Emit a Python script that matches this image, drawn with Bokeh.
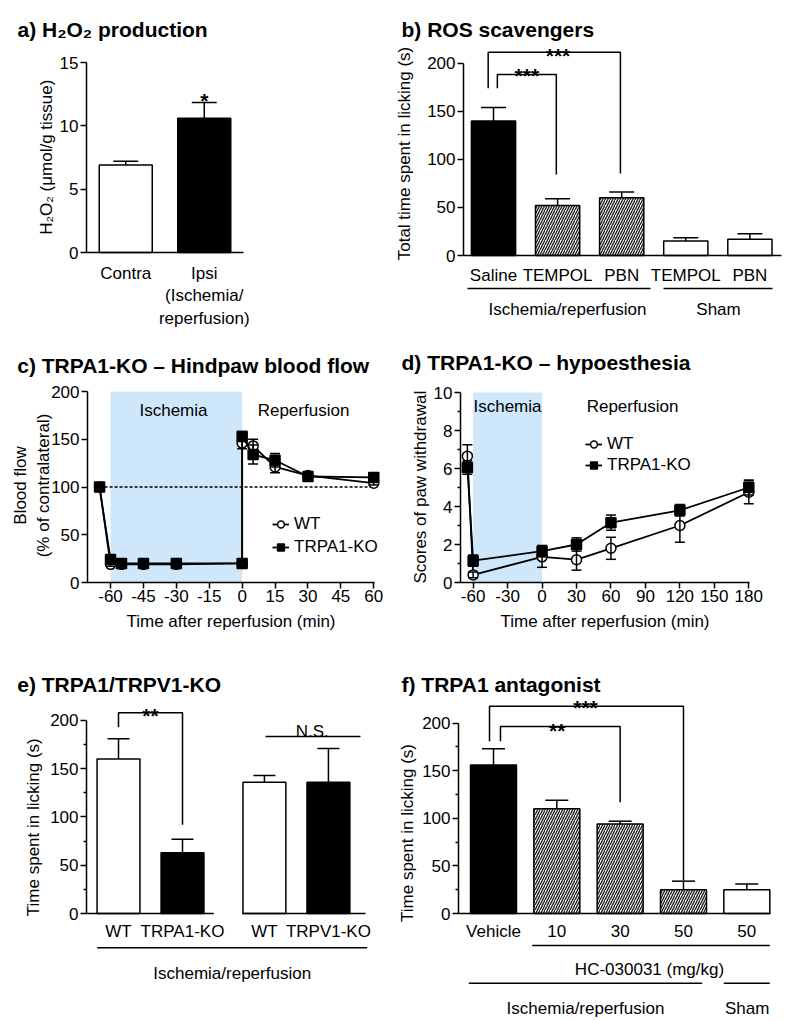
from math import pi
from bokeh.plotting import figure
from bokeh.models import (Range1d, FixedTicker, Label, Whisker, TeeHead,
                          ColumnDataSource, BoxAnnotation, Legend, LegendItem)
from bokeh.layouts import column, row
from bokeh.embed import file_html
from bokeh.resources import INLINE

# ---------------- data ----------------
a_groups = ["Contra", "Ipsi\n(Ischemia/\nreperfusion)"]
a_mean = [6.9, 10.6]
a_sem = [0.3, 1.25]

b_groups = ["Saline", "TEMPOL", "PBN", "TEMPOL", "PBN"]
b_conditions = ["Ischemia/reperfusion", "Sham"]
b_mean = [140, 52, 60, 15, 17]
b_sem = [14, 7, 6, 3.5, 5.5]

c_time = [-65, -60, -55, -45, -30, 0, 0, 5, 15, 30, 60]
c_wt = [100, 19, 19, 19, 19, 20, 146, 143, 121, 112, 104]
c_wt_sem = [2, 2, 2, 2, 2, 2, 6, 7, 6, 2, 2]
c_ko = [100, 24, 20, 20, 20, 20, 153, 134, 128, 111, 110]
c_ko_sem = [2, 3, 2, 2, 2, 2, 5, 10, 7, 3, 3]
c_baseline = 100
c_ticks = [-60, -45, -30, -15, 0, 15, 30, 45, 60]

d_time = [-65, -60, 0, 30, 60, 120, 180]
d_wt = [6.65, 0.4, 1.35, 1.2, 1.8, 3.0, 4.75]
d_wt_sem = [0.6, 0.15, 0.55, 0.55, 0.58, 0.88, 0.6]
d_ko = [6.05, 1.15, 1.65, 2.0, 3.15, 3.8, 5.0]
d_ko_sem = [0.35, 0.3, 0.3, 0.35, 0.4, 0.3, 0.4]
d_ticks = [-60, -30, 0, 30, 60, 90, 120, 150, 180]

ischemia_window = (-60, 0)

e_groups = ["WT", "TRPA1-KO", "WT", "TRPV1-KO"]
e_condition = "Ischemia/reperfusion"
e_mean = [160, 63, 136, 136]
e_sem = [21, 14, 7, 35]

f_groups = ["Vehicle", "10", "30", "50", "50"]
f_mean = [156, 110, 94, 25, 25]
f_sem = [17, 9, 3, 9, 6]

# ---------------- styling helpers ----------------
FONT = "Liberation Sans"
FS = "17px"
TFS = "21px"
SHADE = "#cfe7fb"


def panel(width, height, L, T, R, B, xr, yr, xb, yb, ox=0, oy=0):
    """Frame covers the whole figure; axes sit at fixed data locations.
    L,T,R,B are pixel positions of the plotting area (before the ox/oy shift)."""
    kx = (xr[1] - xr[0]) / (R - L)
    ky = (yr[1] - yr[0]) / (B - T)

    def X(px):
        return xr[0] + (px - L) * kx

    def Y(py):
        return yr[1] - (py - T) * ky

    p = figure(width=width, height=height,
               x_range=Range1d(X(-ox), X(width - ox)), y_range=Range1d(Y(height - oy), Y(-oy)),
               min_border=0, toolbar_location=None, output_backend="svg")
    p.outline_line_color = None
    p.xgrid.visible = False
    p.ygrid.visible = False
    p.background_fill_color = "white"
    p.border_fill_color = "white"
    for ax in (p.xaxis[0], p.yaxis[0]):
        ax.axis_line_color = "black"
        ax.axis_line_width = 1.5
        ax.major_tick_line_color = "black"
        ax.major_tick_line_width = 1.5
        ax.minor_tick_line_color = "black"
        ax.minor_tick_line_width = 1.5
        ax.major_tick_in = 0
        ax.minor_tick_in = 0
        ax.major_tick_out = 6
        ax.minor_tick_out = 3
        ax.major_label_text_font = FONT
        ax.major_label_text_font_size = FS
        ax.major_label_text_color = "black"
        ax.axis_label_text_font = FONT
        ax.axis_label_text_font_size = FS
        ax.axis_label_text_font_style = "normal"
        ax.axis_label_text_color = "black"
        ax.major_label_standoff = 2
    p.xaxis.fixed_location = yr[0]
    p.yaxis.fixed_location = xr[0]
    p.xaxis.bounds = xb
    p.yaxis.bounds = yb
    return p, X, Y


def text(p, x, y, s, size=FS, bold=False, align="center", baseline="alphabetic", angle=0.0):
    p.add_layout(Label(x=x, y=y, text=s, text_font=FONT, text_font_size=size,
                       text_font_style="bold" if bold else "normal", text_color="black",
                       text_align=align, text_baseline=baseline, angle=angle))


def rule(p, x0, x1, y):
    p.segment(x0=[x0], y0=[y], x1=[x1], y1=[y], line_color="black", line_width=1.5)


def bars(p, pos, mean, sem, kinds, width, cap):
    for kind in ("black", "white", "hatch"):
        idx = [i for i, k in enumerate(kinds) if k == kind]
        if not idx:
            continue
        kw = dict(fill_color="black") if kind == "black" else dict(fill_color="white")
        if kind == "hatch":
            kw.update(hatch_pattern="/", hatch_color="#222222", hatch_scale=5, hatch_weight=1.4)
        p.vbar(x=[pos[i] for i in idx], top=[mean[i] for i in idx], bottom=0, width=width,
               line_color="black", line_width=1.5, **kw)
    src = ColumnDataSource(dict(x=pos, lo=mean, hi=[m + s for m, s in zip(mean, sem)]))
    p.add_layout(Whisker(source=src, base="x", lower="lo", upper="hi", dimension="height",
                         line_color="black", line_width=1.5, lower_head=None,
                         upper_head=TeeHead(size=cap, line_color="black", line_width=1.5)))


def bar_xaxis(p, pos, labels, standoff):
    p.xaxis.ticker = FixedTicker(ticks=pos)
    p.xaxis.major_label_overrides = dict(zip(pos, labels))
    p.xaxis.major_tick_out = 0
    p.xaxis.major_label_standoff = standoff


def time_xaxis(p, ticks):
    p.xaxis.ticker = FixedTicker(ticks=ticks)
    p.xaxis.major_label_overrides = {t: str(t) for t in ticks}
    p.xaxis.major_label_standoff = 1
    p.xaxis.axis_label = "Time after reperfusion (min)"
    p.xaxis.axis_label_standoff = 7


def series(p, t, v, e, marker, fill):
    ln = p.line(t, v, line_color="black", line_width=1.8)
    src = ColumnDataSource(dict(x=t, lo=[a - b for a, b in zip(v, e)], hi=[a + b for a, b in zip(v, e)]))
    p.add_layout(Whisker(source=src, base="x", lower="lo", upper="hi", dimension="height",
                         line_color="black", line_width=1.5, level="annotation",
                         upper_head=TeeHead(size=10, line_color="black", line_width=1.5),
                         lower_head=TeeHead(size=10, line_color="black", line_width=1.5)))
    sc = p.scatter(t, v, marker=marker, size=10, fill_color=fill, line_color="black", line_width=1.5)
    return ln, sc


def legend(p, items, loc, spacing):
    lg = Legend(items=[LegendItem(label=lab, renderers=list(r)) for lab, r in items],
                location=loc, border_line_color=None, background_fill_alpha=0,
                label_text_font=FONT, label_text_font_size=FS, label_text_color="black",
                glyph_width=17, glyph_height=20, label_standoff=5, spacing=spacing,
                padding=0, margin=0, label_height=20)
    p.add_layout(lg)


# ---------------- a) H2O2 production ----------------
pa, X, Y = panel(390, 330, 78, 54, 235, 244, (0.5, 2.5), (0, 15), (0.5, 2.5), (0, 15), ox=8, oy=8)
a_pos = [1, 2]
bars(pa, a_pos, a_mean, a_sem, ["white", "black"], 0.675, 25)
bar_xaxis(pa, a_pos, a_groups, 11)
pa.yaxis.ticker = FixedTicker(ticks=[0, 5, 10, 15])
text(pa, a_pos[1], Y(92), "*", size=TFS, bold=True)
text(pa, X(9), Y(21.4), "a) H₂O₂ production", size=TFS, bold=True, align="left")
text(pa, X(37.8), Y(148.7), "H₂O₂ (μmol/g tissue)", baseline="middle", angle=pi / 2)

# ---------------- b) ROS scavengers ----------------
pb, X, Y = panel(396, 330, 73, 16, 391, 247, (0.532, 5.493), (0, 240.25), (0.532, 5.493), (0, 200), ox=0, oy=8)
b_pos = [1, 2, 3, 4, 5]
bars(pb, b_pos, b_mean, b_sem, ["black", "hatch", "hatch", "white", "white"], 0.69, 25)
bar_xaxis(pb, b_pos, b_groups, 10)
pb.yaxis.ticker = FixedTicker(ticks=[0, 50, 100, 150, 200])
pb.multi_line(xs=[[1.06, 1.06, 1.98, 1.98], [0.917, 0.917, 2.98, 2.98]],
              ys=[[174, 188.3, 188.3, 84.3], [174, 211.4, 211.4, 85.3]],
              line_color="black", line_width=1.5)
text(pb, (1.06 + 1.98) / 2, Y(67), "***", size=TFS, bold=True)
text(pb, X(167.5), Y(46.7), "***", size=TFS, bold=True)
rule(pb, X(77), X(260), Y(280))
rule(pb, X(273), X(382), Y(280))
text(pb, X(177), Y(301.4), b_conditions[0])
text(pb, X(328), Y(301.4), b_conditions[1])
text(pb, X(11), Y(21.4), "b) ROS scavengers", size=TFS, bold=True, align="left")
text(pb, X(13.7), Y(145), "Total time spent in licking (s)", baseline="middle", angle=pi / 2)

# ---------------- c) TRPA1-KO hindpaw blood flow ----------------
pc, X, Y = panel(390, 325, 79, 61, 378, 252, (-70.5, 65.8), (0, 200), (-70.5, 60.5), (0, 200), ox=8, oy=0)
pc.add_layout(BoxAnnotation(left=ischemia_window[0], right=ischemia_window[1], bottom=0, top=200,
                            fill_color=SHADE, fill_alpha=1, line_color=None, level="underlay"))
pc.line([c_time[0], c_time[-1]], [c_baseline, c_baseline], line_color="black",
        line_width=1.3, line_dash="3 2")
c_wt_r = series(pc, c_time, c_wt, c_wt_sem, "circle", "white")
c_ko_r = series(pc, c_time, c_ko, c_ko_sem, "square", "black")
time_xaxis(pc, c_ticks)
pc.yaxis.ticker = FixedTicker(ticks=[0, 50, 100, 150, 200])
legend(pc, [("WT", c_wt_r), ("TRPA1-KO", c_ko_r)], (272, 98), 3)
text(pc, X(165), Y(80), "Ischemia")
text(pc, X(295), Y(80), "Reperfusion")
text(pc, X(8.7), Y(35), "c) TRPA1-KO – Hindpaw blood flow", size=TFS, bold=True, align="left")
text(pc, X(12), Y(155), "Blood flow", baseline="middle", angle=pi / 2)
text(pc, X(34.5), Y(155), "(% of contralateral)", baseline="middle", angle=pi / 2)

# ---------------- d) TRPA1-KO hypoesthesia ----------------
pd, X, Y = panel(396, 325, 70, 62, 366, 252, (-71, 186.7), (0, 10), (-71, 181), (0, 10))
pd.add_layout(BoxAnnotation(left=ischemia_window[0], right=ischemia_window[1], bottom=0, top=10,
                            fill_color=SHADE, fill_alpha=1, line_color=None, level="underlay"))
d_wt_r = series(pd, d_time, d_wt, d_wt_sem, "circle", "white")
d_ko_r = series(pd, d_time, d_ko, d_ko_sem, "square", "black")
time_xaxis(pd, d_ticks)
pd.yaxis.ticker = FixedTicker(ticks=[0, 2, 4, 6, 8, 10], minor_ticks=[1, 3, 5, 7, 9])
legend(pd, [("WT", d_wt_r), ("TRPA1-KO", d_ko_r)], (195, 180), 1)
text(pd, X(117), Y(76), "Ischemia")
text(pd, X(242), Y(76), "Reperfusion")
text(pd, X(11), Y(32), "d) TRPA1-KO – hypoesthesia", size=TFS, bold=True, align="left")
text(pd, X(30), Y(156.7), "Scores of paw withdrawal", baseline="middle", angle=pi / 2)

# ---------------- e) TRPA1/TRPV1-KO ----------------
pe, X, Y = panel(390, 365, 78, 20, 366, 258, (-0.5, 4.0), (0, 246.6), (-0.5, 3.86), (0, 200), ox=8, oy=0)
e_pos = [0, 1, 2.28, 3.28]
bars(pe, e_pos, e_mean, e_sem, ["white", "black", "white", "black"], 0.67, 22)
bar_xaxis(pe, e_pos, e_groups, 8)
pe.xaxis.axis_line_color = None
pe.segment(x0=[X(78), X(233.7)], y0=[0, 0], x1=[X(205.3), X(357)], y1=[0, 0],
           line_color="black", line_width=1.5)
pe.yaxis.ticker = FixedTicker(ticks=[0, 50, 100, 150, 200], minor_ticks=[25, 75, 125, 175])
pe.multi_line(xs=[[e_pos[0], e_pos[0], e_pos[1], e_pos[1]]], ys=[[193, 208, 208, 92]],
              line_color="black", line_width=1.5)
text(pe, (e_pos[0] + e_pos[1]) / 2, Y(59.7), "**", size=TFS, bold=True)
rule(pe, X(257), X(352), 183.4)
text(pe, X(303.7), Y(75.5), "N.S.")
rule(pe, X(88.7), X(358.7), Y(292.3))
text(pe, X(223.7), Y(318.4), e_condition)
text(pe, X(8.7), Y(28.7), "e) TRPA1/TRPV1-KO", size=TFS, bold=True, align="left")
text(pe, X(25.3), Y(171.7), "Time spent in licking (s)", baseline="middle", angle=pi / 2)

# ---------------- f) TRPA1 antagonist ----------------
pf, X, Y = panel(396, 365, 68, 20, 380, 258, (0.4474, 5.374), (0, 250.1), (0.4474, 5.374), (0, 200))
f_pos = [1, 2, 3, 4, 5]
bars(pf, f_pos, f_mean, f_sem, ["black", "hatch", "hatch", "hatch", "white"], 0.726, 23)
bar_xaxis(pf, f_pos, f_groups, 8)
pf.yaxis.ticker = FixedTicker(ticks=[0, 50, 100, 150, 200], minor_ticks=[25, 75, 125, 175])
pf.multi_line(xs=[[1.11, 1.11, 3, 3], [0.937, 0.937, 4, 4]],
              ys=[[181, 196.5, 196.5, 117], [181, 217.8, 217.8, 34.7]],
              line_color="black", line_width=1.5)
text(pf, X(166.7), Y(75.3), "**", size=TFS, bold=True)
text(pf, X(195), Y(52), "***", size=TFS, bold=True)
rule(pf, X(141.7), X(379.3), Y(290))
rule(pf, X(78.3), X(311.7), Y(327.7))
rule(pf, X(333.3), X(379.3), Y(327.7))
text(pf, X(259), Y(313.5), "HC-030031 (mg/kg)")
text(pf, X(195), Y(353), "Ischemia/reperfusion")
text(pf, X(356.7), Y(353), "Sham")
text(pf, X(11), Y(28.7), "f) TRPA1 antagonist", size=TFS, bold=True, align="left")
text(pf, X(17.3), Y(177.5), "Time spent in licking (s)", baseline="middle", angle=pi / 2)

layout = column(row(pa, pb), row(pc, pd), row(pe, pf))
open("out.html", "w").write(file_html(layout, INLINE, title="TRPA1 figure"))
